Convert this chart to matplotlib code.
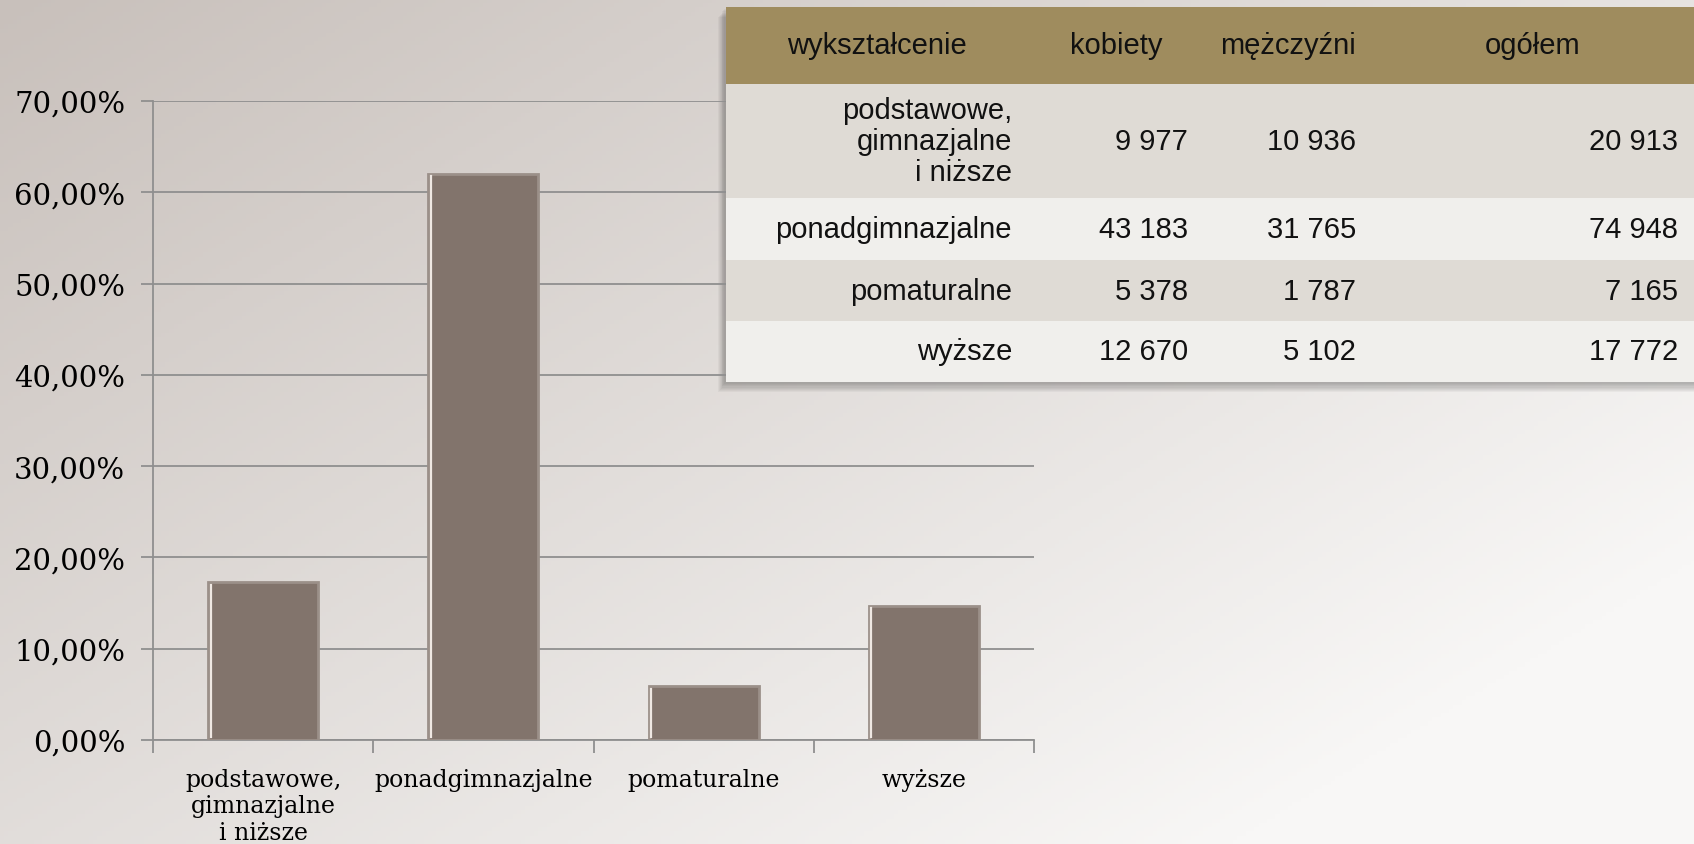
"""
Wykształcenie bezrobotnych - wykres słupkowy z tabelą.
"""

import matplotlib
matplotlib.use('Agg')
import matplotlib.pyplot as plt
import numpy as np
from matplotlib.patches import Rectangle
from matplotlib.ticker import FuncFormatter

# Dane
categories = ['podstawowe,\ngimnazjalne\ni niższe', 'ponadgimnazjalne', 'pomaturalne', 'wyższe']
shares = [0.1731, 0.6204, 0.0593, 0.1471]
y_ticks = [0.0, 0.1, 0.2, 0.3, 0.4, 0.5, 0.6, 0.7]

table_header = ['wykształcenie', 'kobiety', 'mężczyźni', 'ogółem']
women = ['9 977', '43 183', '5 378', '12 670']
men = ['10 936', '31 765', '1 787', '5 102']
total = ['20 913', '74 948', '7 165', '17 772']

COLORS = {
    'bar': '#82746c',
    'bar_edge': '#9b9089',
    'grid': '#8f8f8f',
    'header': '#9f8c5e',
    'row_dark': '#dfdbd5',
    'row_light': '#f0efec',
    'bg_start': '#c8c0bb',
    'bg_end': '#f8f7f6',
}

W, H = 1694, 845
fig = plt.figure(figsize=(W / 100, H / 100), dpi=100)

# Tło z gradientem po przekątnej
bg = fig.add_axes([0, 0, 1, 1], zorder=-10)
gx, gy = np.meshgrid(np.linspace(0, 1, 400), np.linspace(0, 1, 200))
t = np.clip((gx * 1.1 + gy * 0.9) / 1.7, 0, 1)
c0 = np.array(matplotlib.colors.to_rgb(COLORS['bg_start']))
c1 = np.array(matplotlib.colors.to_rgb(COLORS['bg_end']))
img = c0[None, None, :] * (1 - t[..., None]) + c1[None, None, :] * t[..., None]
bg.imshow(img, aspect='auto', extent=[0, 1, 0, 1], origin='upper')
bg.set_axis_off()

# Wykres słupkowy
ax = fig.add_axes([153 / W, 1 - 741 / H, (1034 - 153) / W, (741 - 102) / H])
ax.set_facecolor('none')
x = np.arange(len(categories))
bars = ax.bar(x, shares, width=0.5, color=COLORS['bar'], edgecolor=COLORS['bar_edge'],
              linewidth=2, zorder=3)
for b in bars:
    # jasna krawędź z lewej (efekt fazowania)
    x0 = b.get_x() + 0.012
    ax.plot([x0, x0], [0.003, b.get_height() - 0.003], color='#efe8e3', lw=1.6, zorder=4)

ax.set_xlim(-0.5, len(categories) - 0.5)
ax.set_ylim(0, 0.7)
ax.set_yticks(y_ticks)
ax.yaxis.set_major_formatter(FuncFormatter(lambda v, p: f'{v * 100:.2f}%'.replace('.', ',')))
ax.set_xticks(x)
ax.set_xticklabels(categories, fontsize=17, family='DejaVu Serif', linespacing=1.2)
ax.set_xticks(np.arange(-0.5, len(categories)), minor=True)

ax.tick_params(axis='x', which='major', length=0, pad=20)
ax.tick_params(axis='x', which='minor', length=9, color=COLORS['grid'], width=1.3)
ax.tick_params(axis='y', length=9, color=COLORS['grid'], width=1.3, pad=11)
for lbl in ax.get_yticklabels():
    lbl.set_fontsize(21)
    lbl.set_family('DejaVu Serif')

ax.grid(axis='y', color=COLORS['grid'], linewidth=1.3, zorder=0)
ax.set_axisbelow(True)
for side in ['top', 'right']:
    ax.spines[side].set_visible(False)
for side in ['left', 'bottom']:
    ax.spines[side].set_color(COLORS['grid'])
    ax.spines[side].set_linewidth(1.3)

# Tabela
tx0, ty0, ty1 = 726, 8, 383
tab_rect = [tx0 / W, 1 - ty1 / H, (W - tx0) / W, (ty1 - ty0) / H]

# cień pod tabelą
for i in range(8):
    fig.patches.append(Rectangle(((tx0 - 2 - i * 0.8) / W, 1 - (ty1 + 2 + i * 1.2) / H),
                                 (W - tx0 + 10) / W, (ty1 - ty0) / H,
                                 transform=fig.transFigure, facecolor='black',
                                 edgecolor='none', alpha=0.035, zorder=-5))

tax = fig.add_axes(tab_rect)
tax.set_axis_off()
cell_text = [[c, w, m, t_] for c, w, m, t_ in zip(categories, women, men, total)]
col_px = [302, 176, 168, 322]
col_w = [c / sum(col_px) for c in col_px]
tbl = tax.table(cellText=cell_text, colLabels=table_header, colWidths=col_w,
                bbox=[0, 0, 1, 1], cellLoc='right')
tbl.auto_set_font_size(False)

row_px = [77, 114, 62, 61, 61]
row_colors = [COLORS['header'], COLORS['row_dark'], COLORS['row_light'],
              COLORS['row_dark'], COLORS['row_light']]
for (r, c), cell in tbl.get_celld().items():
    cell.set_height(row_px[r] / sum(row_px))
    cell.set_facecolor(row_colors[r])
    cell.set_linewidth(0)
    txt = cell.get_text()
    txt.set_fontsize(21)
    txt.set_family('Liberation Sans')
    txt.set_color('#111111')
    txt.set_linespacing(1.15)
    if r == 0:
        cell._loc = 'center'
        txt.set_ha('center')
    else:
        cell._loc = 'right'
        cell.PAD = 16 / col_px[c]
        txt.set_ha('right')

fig.savefig('out.png', dpi=100)
plt.close()
